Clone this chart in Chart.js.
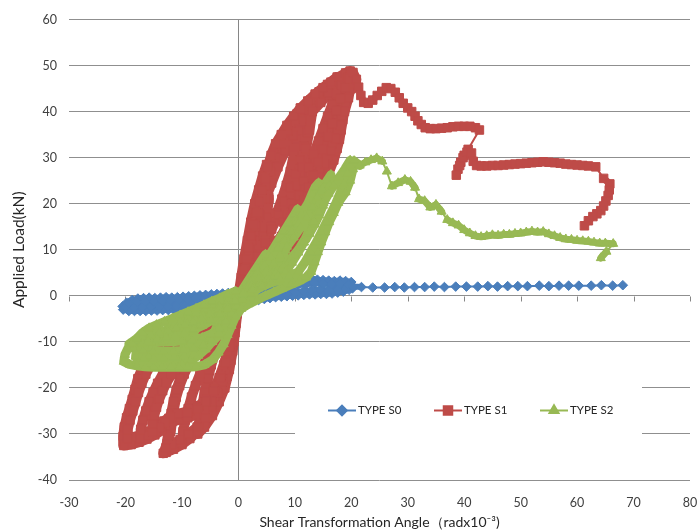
<!DOCTYPE html>
<html><head><meta charset="utf-8">
<script src="https://cdn.jsdelivr.net/npm/chart.js@4/dist/chart.umd.min.js"></script>
<style>html,body{margin:0;padding:0;background:#fff;}canvas{display:block;}</style>
</head><body>
<canvas id="c" width="697" height="531"></canvas>
<script>
// ---- data ----
const seriesNames = ['TYPE S0', 'TYPE S1', 'TYPE S2'];
const xTickRange = [-30, 80, 10];
const yTickRange = [-40, 60, 10];
const xTitle = 'Shear Transformation Angle（radx10⁻³)';
const yTitle = 'Applied Load(kN)';

// TYPE S0 : [angle, load]
const typeS0 = [
[0,0],[1,0.3],[2,0.6],[3,0.9],[4,1.1],[5,1.4],[4,0.8],[3,0.4],[2,0],[1,-0.3],[0,-0.6],[-1,-0.9],[-2,-1.2],[-3,-1.4],[-4,-1.6],[-5,-1.8],[-4,-1.2],[-3,-0.8],[-2,-0.5],[-1,-0.2],[0,0.1],
[1,0.5],[2,0.8],[3,1.1],[4,1.4],[5,1.7],[6,2],[7,2.2],[8,2.5],[9,2.7],[10,2.9],[9.5,2],[8.5,1.5],[7.5,1.1],[6.5,0.8],[5.5,0.5],[4.5,0.2],[3.5,0],[2.5,-0.3],[1.5,-0.5],[0.5,-0.8],[-0.5,-1],[-1.5,-1.3],[-2.5,-1.5],[-3.5,-1.8],[-4.5,-2],[-5.5,-2.2],[-6.5,-2.4],[-7.5,-2.6],[-8.5,-2.8],[-9.5,-3],[-10.5,-3.1],[-10,-2.2],[-9,-1.6],[-8,-1.2],[-7,-0.9],[-6,-0.6],[-5,-0.4],[-4,-0.2],[-3,0],[-2,0.2],[-1,0.4],[0,0.6],
[1,0.9],[2,1.1],[3,1.4],[4,1.6],[5,1.9],[6,2.1],[7,2.3],[8,2.6],[9,2.8],[10,3.1],[11,3.3],[12,3.5],[13,3.7],[14,3.5],[15,3.4],[16,3.3],[17,3.2],[18,3.3],[19,3.2],[20,3],[20.3,2],[19.6,1.3],[18.6,0.9],[17.6,0.7],[16.6,0.5],[15.6,0.4],[14.6,0.4],[13.6,0.3],[12.6,0.3],[11.6,0.2],[10.6,0.1],[9.6,0],[8.6,-0.1],[7.6,-0.2],[6.6,-0.3],[5.6,-0.5],[4.6,-0.7],[3.6,-0.9],[2.6,-1.1],[1.6,-1.3],[0.6,-1.5],[-0.4,-1.7],[-1.4,-1.9],[-2.4,-2.1],[-3.4,-2.2],[-4.4,-2.4],[-5.4,-2.5],[-6.4,-2.6],[-7.4,-2.7],[-8.4,-2.8],[-9.4,-2.9],[-10.4,-3],[-11.4,-3],[-12.4,-3.1],[-13.4,-3.1],[-14.4,-3.2],[-15.4,-3.2],[-16.4,-3.3],[-17.4,-3.3],[-18.4,-3.3],[-19.4,-3.3],[-20.4,-3],[-20.5,-2.3],[-19.8,-1.5],[-18.8,-0.9],[-17.8,-0.6],[-16.8,-0.5],[-15.8,-0.4],[-14.8,-0.5],[-13.8,-0.4],[-12.8,-0.3],[-11.8,-0.4],[-10.8,-0.3],[-9.8,-0.2],[-8.8,-0.1],[-7.8,0],[-6.8,0.1],[-5.8,0.2],[-4.8,0.3],[-3.8,0.4],[-2.8,0.5],[-1.8,0.6],[-0.8,0.8],[0.2,1],
[1.5,1.2],[3,1.6],[4.5,2],[6,2.3],[7.5,2.6],[9,2.9],[10.5,3.2],[12,3.3],[13.5,3],[15,2.7],[16.5,2.6],[18,2.5],[19.5,2.3],[20.2,1.6],[19,1.5],[17.5,1.3],[16,1.2],[14.5,1.3],[13,1.2],[11.5,1],[10,0.7],[8.5,0.4],[7,0.1],[5.5,-0.2],[4,-0.5],[2.5,-0.8],[1,-1.1],[-0.5,-1.3],[-2,-1.5],[-3.5,-1.7],[-5,-1.9],[-6.5,-2],[-8,-2.1],[-9.5,-2.2],[-11,-2.2],[-12.5,-2.3],[-14,-2.4],[-15.5,-2.4],[-17,-2.5],[-18.5,-2.6],[-20,-2.4],[-19.5,-1.6],[-18,-1.3],[-16.5,-1.2],[-15,-1.2],[-13.5,-1.1],[-12,-1],[-10.5,-0.9],[-9,-0.8],[-7.5,-0.6],[-6,-0.4],[-4.5,-0.2],[-3,0],[-1.5,0.2],[0,0.5],[1.5,0.9],[3,1.2],[4.5,1.5],[6,1.7],[7.5,1.9],[9,2.1],[10.5,2.3],[12,2.5],[13.5,2.7],[15,2.6],[16.5,2.5],[18,2.6],[19.5,2.4],[20.3,2],
[21.8,1.9],[23.8,1.8],[25.9,1.8],[27.7,1.9],[29.4,1.8],[31.2,1.9],[33,1.9],[34.7,2],[36.5,1.9],[38.5,2],[40.4,2],[42.4,2],[44.2,2.1],[45.9,2],[47.7,2.1],[49.5,2.1],[51.2,2.1],[53.3,2.2],[55,2.1],[56.8,2.2],[58.5,2.2],[60.3,2.2],[62.5,2.2],[64.3,2.3],[66.3,2.2],[68.1,2.3]
];

// TYPE S1 : [angle, load]
const typeS1 = [
[0,0],[0.5,4],[1,8],[1.6,12],[2.2,16],[2.9,20],[3.6,23],[4.3,26],[5,28.5],[5.2,25],[5.4,21],[5,17],[4.4,13],[3.6,9],[2.7,5],[1.6,2],[0.4,-1],[-0.3,-4],[-0.6,-8],[-1,-12],[-1.6,-16],[-2.4,-20],[-3.4,-23],[-4.6,-26],[-6,-28.5],[-7.2,-30],[-6.8,-27],[-6.4,-24],[-6,-21],[-5.4,-18],[-4.8,-15],[-4,-12],[-3.2,-9],[-2.3,-6],[-1.3,-3],[-0.3,-1],
[0.6,2],[1.1,5],[1.7,9],[2.3,13],[3,17],[3.7,21],[4.5,25],[5.3,28],[6.2,31],[7.2,33.5],[8.2,35.5],[9.3,37.5],[10.4,39.5],[11,40.8],[10.7,37.5],[10.3,34],[9.8,30.5],[9.2,27],[8.5,24],[7.7,21],[6.8,18],[5.8,15],[4.8,12],[3.8,9],[2.8,6],[1.8,3.5],[0.8,1],[0,-2],[-0.4,-6],[-0.8,-10],[-1.3,-14],[-2,-17.5],[-2.9,-20.5],[-3.8,-23],[-4.8,-25.5],[-6,-27.5],[-7.3,-29.5],[-8.6,-31],[-10,-32.3],[-11.5,-33.3],[-12.8,-34],[-13.3,-34.2],[-12.6,-32],[-12,-29.5],[-11.7,-27],[-11.4,-24.5],[-11,-22],[-10.4,-19.5],[-9.6,-17],[-8.6,-14.5],[-7.5,-12],[-6.3,-9.5],[-5,-7],[-3.6,-4.8],[-2.2,-2.8],[-1,-1.2],
[0.5,2],[1.2,6],[2,10],[2.9,14],[3.8,17.5],[4.8,21],[5.9,24.5],[7,28],[8.3,31.5],[9.7,34.8],[11.2,37.8],[12.4,40],[13,41.2],[12.7,38.5],[12.2,35.5],[11.6,32.5],[10.9,29.5],[10.1,26.5],[9.2,23.5],[8.2,20.5],[7.1,17.5],[5.9,14.5],[4.7,11.5],[3.5,8.5],[2.3,5.5],[1.1,2.5],[0.2,-0.5],[-0.3,-3],[-0.8,-7],[-1.4,-11],[-2.2,-15],[-3.1,-18.5],[-4.2,-22],[-5.5,-25],[-7,-28],[-8.5,-30.5],[-10,-32],[-9.8,-29.5],[-9.4,-27],[-8.9,-24.5],[-8.3,-22],[-7.6,-19.5],[-6.8,-17],[-5.9,-14.5],[-4.9,-12],[-3.8,-9.5],[-2.7,-7],[-1.6,-4.5],[-0.6,-2],
[0.3,0.5],[0.8,3],[1.3,6],[1.8,9],[2.4,12],[3,15],[3.6,18],[4.2,21],[4.9,24],[5.7,27],[6.6,30],[7.6,33],[8.8,35.8],[10,38.2],[11.4,40.5],[12.8,42.5],[14.3,44.3],[15.8,45.9],[17.5,47.5],[17.2,46],[16,44],[14.6,42],[13.1,40],[12.6,36],[12,32],[11.3,28],[10.4,24],[9.3,20],[8,16],[6.5,12],[4.8,8],[3,4.5],[1.3,1.5],[0,-1],[-0.4,-4],[-0.8,-7.5],[-1.3,-11],[-1.9,-14.5],[-2.7,-18],[-3.6,-21],[-4.7,-24],[-5.9,-26.5],[-7.3,-28.5],[-8.8,-30],[-10.3,-31.2],[-11.8,-32.3],[-12.8,-33],[-12.5,-30.5],[-12.2,-28],[-11.9,-25.5],[-11.5,-23],[-11,-20.5],[-10.3,-18],[-9.4,-15.5],[-8.3,-13],[-7,-10.5],[-5.6,-8],[-4.1,-5.8],[-2.6,-3.8],[-1.2,-1.8],
[0.3,0],[0.6,3],[1,5.5],[1.4,8],[1.8,10.5],[2.2,13],[2.7,15.5],[3.2,18],[3.7,20.5],[4.2,23],[4.7,25.5],[5.2,28],[5.8,30.5],[6.6,33],[7.6,35],[8.6,37],[9.8,39],[11,40.7],[12.3,42.3],[13.6,43.8],[15,45.2],[16.4,46.4],[17.8,47.5],[19,48.4],[19.8,48.8],[20.3,47.3],[20,45],[19.3,43],[18.8,40.5],[18.5,38.2],[18.2,36],[17.9,34],[17.5,32],[16.9,29.5],[16.1,27],[15.5,25.2],[14.9,23.5],[14.3,21.8],[13.7,20],[12.3,16.5],[10.6,13],[8.8,10],[6.8,7.2],[4.8,4.8],[2.8,2.6],[1,0.5],[0,-2],[-0.3,-4],[-0.7,-7],[-1.1,-10],[-1.6,-13],[-2.2,-16],[-2.9,-18.7],[-3.7,-21],[-4.7,-23],[-6,-24.7],[-7.5,-25.8],[-9,-26.5],[-10.5,-26.9],[-11.8,-27.4],[-12.8,-28.2],[-13.6,-29.2],[-14.8,-30.2],[-16.2,-31.1],[-17.6,-31.8],[-19,-32.3],[-20.3,-32.5],[-20.4,-30.5],[-20.2,-28.5],[-19.8,-26.5],[-19.3,-24.5],[-18.8,-22.5],[-18.3,-20.3],[-17.8,-18],[-17.1,-16],[-16.2,-14],[-15.2,-12.3],[-14,-10.8],[-12.6,-9.4],[-11,-8],[-9.3,-6.8],[-7.6,-5.6],[-5.8,-4.4],[-4,-3.2],[-2.2,-1.8],[-0.6,-0.5],
[0.8,1.2],[2.2,3],[3.6,5],[5,7],[6.4,9.3],[7.7,11.8],[8.9,14.5],[10,17.5],[10.9,20.5],[11.7,23.5],[12.4,26.5],[13.2,29.5],[14.1,32.5],[15.1,35.5],[16,38.5],[16.9,41.3],[17.6,43.6],[18.4,45.6],[19.2,47.2],[20,48],[20.2,47.5],[19.4,44.5],[18.6,41],[17.8,37.5],[16.9,34],[15.9,30.5],[14.8,27],[13.6,23.5],[12.3,20],[10.8,16.5],[9.2,13.3],[7.4,10.2],[5.5,7.3],[3.6,4.6],[1.8,2.2],[0.2,-0.5],[-0.3,-3],[-0.8,-6],[-1.3,-9],[-1.9,-12],[-2.6,-15],[-3.4,-17.8],[-4.4,-20.3],[-5.6,-22.4],[-7,-23.9],[-8.6,-24.9],[-10.2,-25.5],[-11.8,-26],[-13.2,-27.2],[-14.4,-28.4],[-15.7,-29.4],[-17,-30.1],[-18.4,-30.6],[-19.6,-31],[-19.6,-29],[-19.2,-27],[-18.7,-25],[-18.2,-23],[-17.7,-21],[-17.1,-19],[-16.4,-17],[-15.6,-15.2],[-14.6,-13.6],[-13.4,-12.2],[-12,-11],[-10.4,-9.8],[-8.7,-8.5],[-7,-7],[-5.3,-5.5],[-3.6,-4],[-1.9,-2.5],[-0.4,-1],
[0.9,1.3],[2.3,3.3],[3.7,5.3],[5.1,7.4],[6.5,9.7],[7.8,12.2],[9,14.9],[10.1,17.8],[11.1,20.8],[12,23.7],[12.8,26.4],[13.7,29.1],[14.6,31.8],[15.5,34.6],[16.4,37.4],[17.2,40.2],[17.9,42.8],[18.6,45.2],[19.4,47.1],[20,47.6],[19.8,45],[19.1,42],[18.3,39],[17.5,36],[16.6,33],[15.6,30],[14.5,27],[13.3,24],[12,21],[10.5,18],[8.9,15],[7.1,12],[5.3,9],[3.5,6],[1.7,3],[0.1,-0.3],[-0.4,-3.5],[-0.9,-7],[-1.5,-10.5],[-2.2,-14],[-3.1,-17.3],[-4.2,-20.2],[-5.6,-22.6],[-7.2,-24.3],[-9,-25.3],[-10.8,-25.9],[-12.3,-26.6],[-13.5,-27.8],[-14.6,-29.2],[-15.9,-30.3],[-17.4,-31],[-17.3,-29],[-16.9,-27],[-16.4,-25],[-15.8,-23],[-15.1,-21],[-14.3,-19],[-13.4,-17],[-12.3,-15.2],[-11,-13.5],[-9.6,-11.9],[-8,-10.2],[-6.4,-8.4],[-4.8,-6.6],[-3.2,-4.6],[-1.7,-2.6],[-0.4,-1],
[1,1.6],[2.4,3.6],[3.8,5.7],[5.2,7.9],[6.5,10.3],[7.7,12.9],[8.8,15.7],[9.8,18.7],[10.7,21.8],[11.5,24.9],[12.4,27.9],[13.3,30.8],[14.2,33.6],[15,36.3],[15.8,38.9],[16.6,41.5],[17.4,43.8],[18.3,45.8],[19.3,47.4],[20.1,48.1],[20,46],[19.5,43],[18.8,40],[18,37],[17.2,34.2],[16.3,31.4],[15.3,28.6],[14.2,25.8],[13,23],[11.6,20.2],[10.1,17.4],[8.5,14.6],[6.8,11.6],[5,8.6],[3.2,5.6],[1.5,2.7],[0,-0.5],[-0.5,-4],[-1,-7.5],[-1.6,-11],[-2.3,-14.5],[-3.2,-17.8],[-4.3,-20.7],[-5.7,-23],[-7.3,-24.6],[-9.1,-25.5],[-10.8,-25.6],[-12,-26.3],[-13,-27.5],[-14,-28.6],[-15.2,-29.6],[-15.2,-27.8],[-14.9,-26],[-14.5,-24.2],[-14,-22.4],[-13.4,-20.6],[-12.7,-18.8],[-11.8,-17],[-10.7,-15.2],[-9.5,-13.5],[-8.1,-11.7],[-6.6,-9.8],[-5,-7.8],[-3.4,-5.6],[-1.8,-3.3],[-0.4,-1.2],
[1.2,1.5],[2.7,3.5],[4.1,5.5],[5.5,7.6],[6.9,9.9],[8.2,12.4],[9.4,15.1],[10.5,18],[11.5,20.8],[12.4,23.5],[13.2,26.2],[14.1,29],[15,31.8],[15.9,34.6],[16.7,37.4],[17.4,40.2],[18.1,42.8],[18.9,45.2],[19.7,47.2],[20.3,48.5],[20.9,47],[21.3,45.3],[21.7,43.5],[22.2,42],[23,41.8],[23.8,42.5],[24.6,43.5],[25.4,44.4],[26.2,45.2],[27,45],[27.8,44.2],[28.5,43],[29.2,41.8],[30,40.8],[30.7,40],[31.3,39],[31.8,38],[32.4,37.2],[33.1,36.5],[34,36.3],[35,36.3],[36,36.4],[37,36.5],[38,36.7],[39,36.8],[40,36.8],[41,36.8],[42,36.5],[42.7,36],[40.7,31.8],[40,30.5],[39.4,29],[38.9,27.5],[38.6,26.2],[39.2,28.3],[39.8,30],[40.5,31.2],[41.3,31],[41.6,29.2],[42.2,28.3],[43,28.2],[44,28.2],[45,28.3],[46,28.3],[47,28.4],[48,28.5],[49,28.6],[50,28.7],[51,28.8],[52,28.9],[53,29],[54,29.1],[55,29],[56,28.9],[57,28.8],[58,28.6],[59,28.5],[60,28.4],[61,28.3],[62,28.2],[63.3,28],[64.7,25.5],[65.8,24.3],[65.7,23],[65.5,21.8],[65.1,20.6],[64.7,19.5],[64.2,18.5],[63.5,17.8],[62.8,17.2],[62,16.3],[61.3,15.2]
];

// TYPE S2 : [angle, load]
const typeS2 = [
[0,0],[0.8,1.5],[1.6,3],[2.4,4.5],[3.2,6],[4,7.5],[4.8,9],[4.3,7],[3.6,5],[2.8,3.2],[2,1.8],[1,0.4],[0,-1],[-0.8,-2.5],[-1.6,-4],[-2.4,-5.5],[-3.2,-7],[-4,-8.5],[-4.8,-10],[-4.3,-8],[-3.6,-6],[-2.8,-4.2],[-2,-2.8],[-1,-1.4],[0,-0.2],
[0.9,1],[1.8,2.5],[2.7,4],[3.6,5.5],[4.5,7],[5.4,8.7],[6.3,10.4],[7.2,12.2],[8.1,14],[9,15.8],[9.9,17.6],[10.5,18.8],[10.1,16.5],[9.6,14.2],[9,12],[8.3,9.9],[7.5,7.9],[6.6,6.1],[5.6,4.5],[4.5,3.1],[3.3,1.9],[2.1,0.8],[0.9,-0.3],[-0.2,-1.5],[-1.2,-3],[-2.2,-4.6],[-3.2,-6.2],[-4.2,-7.8],[-5.2,-9.3],[-6.2,-10.8],[-7.2,-12.1],[-8.2,-13.2],[-9.2,-14],[-10.2,-14.6],[-10,-12.6],[-9.5,-10.8],[-8.8,-9.2],[-7.9,-7.8],[-6.9,-6.5],[-5.8,-5.3],[-4.6,-4.1],[-3.4,-3],[-2.2,-1.9],[-1,-0.8],
[0.3,0.2],[1.4,1.7],[2.5,3.3],[3.6,4.9],[4.7,6.6],[5.8,8.4],[6.9,10.2],[8,12],[9.1,14],[10.2,16],[11.3,18],[12.3,20],[13,22],[13.6,23.6],[14.2,24.5],[14.4,22.5],[14.2,20.5],[13.8,18.5],[13.3,16.5],[12.6,14.5],[11.9,12.5],[11,10.6],[10,8.8],[8.9,7.1],[7.7,5.6],[6.4,4.2],[5,2.9],[3.6,1.6],[2.2,0.4],[0.8,-0.8],[-0.5,-2],[-1.5,-4],[-2.5,-6],[-3.5,-8],[-4.6,-9.9],[-5.8,-11.6],[-7.1,-13],[-8.5,-14.1],[-10,-14.9],[-11.5,-15.3],[-13,-15.5],[-14.5,-15.4],[-15.8,-15],[-15.9,-13.2],[-15.5,-11.5],[-14.8,-10],[-13.9,-8.7],[-12.8,-7.6],[-11.6,-6.6],[-10.3,-5.7],[-8.9,-4.8],[-7.5,-3.9],[-6,-3],[-4.5,-2.1],[-3,-1.2],[-1.5,-0.4],
[0,0.3],[1,1.2],[2.2,3],[3.4,4.8],[4.6,6.6],[5.8,8.4],[7,10.2],[8.2,12],[9.4,13.8],[10.6,15.6],[11.8,17.5],[13,19.5],[14,21.5],[14.5,22.8],[14.3,20.5],[13.9,18.3],[13.3,16.2],[12.6,14.2],[11.8,12.3],[10.9,10.5],[9.9,8.8],[8.8,7.2],[7.6,5.7],[6.3,4.3],[5,3],[3.6,1.8],[2.2,0.6],[0.8,-0.7],[-0.3,-2.2],[-1.2,-4.3],[-2.2,-6.4],[-3.3,-8.3],[-4.6,-10],[-6.1,-11.4],[-7.8,-12.4],[-9.6,-13],[-11.4,-13.4],[-13.2,-13.6],[-15,-13.7],[-16.8,-13.6],[-18.2,-13.2],[-18,-11.5],[-17.2,-10.2],[-16,-9.4],[-14.6,-8.7],[-13.2,-8],[-11.8,-7.4],[-10.4,-6.8],[-9,-6.1],[-7.6,-5.3],[-6.2,-4.4],[-4.8,-3.4],[-3.4,-2.3],[-2,-1.2],[-0.6,-0.1],
[1,0.8],[2.3,2.2],[3.6,3.7],[4.9,5.3],[6.2,7],[7.4,8.8],[8.6,10.7],[9.8,12.7],[11,14.8],[12.1,17],[13.1,19.2],[14,21.3],[14.9,23.3],[15.7,25],[16.4,26.3],[16.1,24],[15.6,21.8],[15,19.6],[14.3,17.5],[13.5,15.5],[12.6,13.5],[11.6,11.6],[10.5,9.8],[9.3,8.1],[8,6.5],[6.6,5],[5.1,3.6],[3.6,2.2],[2.1,0.8],[0.7,-0.6],[-0.4,-2.3],[-1.3,-4.3],[-2.3,-6.3],[-3.4,-8.1],[-4.7,-9.6],[-6.2,-10.7],[-7.9,-11.4],[-9.7,-11.8],[-11.5,-12],[-13.3,-12.1],[-15.1,-12.1],[-16.9,-11.9],[-18.6,-11.4],[-19.4,-10.5],[-18.4,-9.6],[-17,-9],[-15.5,-8.5],[-14,-8],[-12.5,-7.5],[-11,-7],[-9.5,-6.4],[-8,-5.7],[-6.5,-4.9],[-5,-4],[-3.5,-3],[-2,-2],[-0.6,-1],
[-0.3,-2.2],[-1.2,-3.9],[-2.2,-5.6],[-3.4,-7.1],[-4.8,-8.3],[-6.4,-9.1],[-8.2,-9.6],[-10,-9.8],[-11.8,-10],[-13.6,-10.1],[-15.4,-10.2],[-17,-10.3],[-16,-9.9],[-14.4,-9.5],[-12.8,-9.1],[-11.2,-8.6],[-9.6,-8.1],[-8,-7.4],[-6.4,-6.5],[-4.8,-5.4],[-3.3,-4.1],[-1.9,-2.7],[-0.6,-1.2],
[1,0.5],[2.5,1.5],[4,2.4],[5.5,3.3],[7,4.3],[8.3,5.2],[9.5,7.2],[10.6,9.4],[11.6,11.6],[12.5,13.8],[13.4,16],[14.3,18.1],[15.1,20.2],[16,22.2],[16.9,24],[17.9,25.8],[18.9,27.6],[19.8,29.4],[20.3,27.5],[19.8,25],[19,22.5],[17.7,20.2],[16.9,18],[16.1,16],[15.4,13.8],[14.7,11.6],[14.1,9.5],[13.5,7.3],[12.9,5.2],[12,4],[10.8,3.2],[9.3,2.4],[7.8,1.6],[6.3,0.8],[4.8,0],[3.3,-0.9],[1.8,-1.8],[0.5,-2.8],[-0.5,-4.5],[-1.2,-6.5],[-1.9,-8.5],[-2.6,-10.5],[-3.5,-12.3],[-4.6,-13.9],[-6,-15],[-7.5,-15.4],[-9,-15.5],[-10.5,-15.5],[-12,-15.5],[-13.5,-15.5],[-15,-15.5],[-16.5,-15.4],[-18,-15.2],[-19.3,-14.9],[-20.3,-14.3],[-20.1,-12.8],[-19.6,-11.5],[-18.9,-10.3],[-18,-9.3],[-17,-8],[-15.8,-7],[-14.5,-6.3],[-13.1,-5.6],[-11.7,-4.9],[-10.3,-4.2],[-8.9,-3.5],[-7.5,-2.8],[-6.1,-2],[-4.7,-1.2],[-3.3,-0.5],[-1.9,0.3],[-0.5,1],
[0.8,0.4],[2.5,1.2],[4.2,2],[5.8,2.8],[7.4,3.5],[9,4.3],[10.6,5.2],[11.8,7.3],[12.8,9.5],[13.8,11.6],[14.7,13.8],[15.6,16],[16.5,18.2],[17.3,20.2],[18,22.3],[18.7,24.4],[19.3,26.5],[19.8,28.3],[20.5,29.3],[21.5,28.3],[22.5,29],[23.5,29.5],[24.5,29.9],[25.5,29.2],[26.3,27],[27.2,23.8],[28.3,24.5],[29.5,25.2],[30.5,24.8],[31.3,23.5],[32,21],[33,20.6],[34,19.2],[35,19.8],[36,18.3],[37,16.5],[38,15.8],[39,15.3],[40,14.3],[41,13.6],[42,13],[43,12.8],[44,13],[45,13.2],[46,13.1],[47,13.3],[48,13.3],[49,13.5],[50,13.6],[51,13.8],[52,14],[53,13.8],[54,13.9],[55,13.4],[56,13],[57,12.6],[58,12.3],[59,12.2],[60,12],[61,11.9],[62,11.8],[63,11.6],[64,11.4],[65,11.4],[66.4,11.3],[65.2,9.6],[64.2,8.2]
];

// ---- styles ----
const colors = ['#4A7EBB', '#BE4B48', '#98B954'];
const markers = ['rectRot', 'rect', 'triangle'];
const markerRadius = [4.8, 6, 5.2];
const bandWidth = [6, 10, 9];   // stroke width where markers crowd together
const FONT = 'Lato, Carlito, "Liberation Sans", sans-serif';

function segWidth(i) {
  return ctx => {
    const a = ctx.p0, b = ctx.p1;
    const len = Math.hypot(b.x - a.x, b.y - a.y);
    if (i === 0 && a.parsed.x > 20.5) return 2;
    if (i > 0 && a.parsed.x > 20.5) return len > 10 ? 2 : 7;
    return len > 20 ? 2 : bandWidth[i];
  };
}

const seriesData = [typeS0, typeS1, typeS2];
const datasets = seriesData.map((arr, i) => ({
  label: seriesNames[i],
  data: arr.map(p => ({x: p[0], y: p[1]})),
  showLine: true,
  borderColor: colors[i],
  backgroundColor: colors[i],
  borderWidth: 2,
  borderJoinStyle: 'round',
  borderCapStyle: 'round',
  segment: {borderWidth: segWidth(i)},
  pointStyle: markers[i],
  pointRadius: markerRadius[i],
  pointBorderWidth: 1,
  pointBackgroundColor: colors[i],
  pointBorderColor: colors[i],
  pointHoverRadius: markerRadius[i],
  tension: 0,
  order: 3 - i
}));

const extras = {
  id: 'extras',
  beforeDatasetsDraw(chart) {
    const {ctx, scales: {x, y}} = chart;
    const y0 = Math.round(y.getPixelForValue(0)) + 0.5;
    ctx.save();
    ctx.strokeStyle = '#868686';
    ctx.lineWidth = 1;
    x.ticks.forEach(t => {
      const px = Math.round(x.getPixelForValue(t.value)) + 0.5;
      ctx.beginPath(); ctx.moveTo(px, y0); ctx.lineTo(px, y0 + 5); ctx.stroke();
    });
    ctx.restore();
  },
  afterDatasetsDraw(chart) {
    const ctx = chart.ctx;
    ctx.save();
    ctx.fillStyle = '#ffffff';
    ctx.fillRect(295, 368, 347, 86);
    const ly = 410.5;
    const items = [[328, 358], [434, 464], [540, 570]];
    items.forEach((it, i) => {
      const [x1, tx] = it;
      ctx.strokeStyle = colors[i];
      ctx.lineWidth = 2;
      ctx.beginPath(); ctx.moveTo(x1, ly); ctx.lineTo(x1 + 28, ly); ctx.stroke();
      ctx.fillStyle = colors[i];
      Chart.helpers.drawPoint(ctx, {pointStyle: markers[i], radius: markerRadius[i], borderWidth: 1, rotation: 0}, x1 + 14, ly);
      ctx.fill();
      ctx.fillStyle = '#262626';
      ctx.font = '11.5px ' + FONT;
      ctx.textBaseline = 'middle';
      ctx.textAlign = 'left';
      ctx.fillText(seriesNames[i], tx, ly);
    });
    ctx.restore();
  }
};

new Chart(document.getElementById('c'), {
  type: 'scatter',
  data: {datasets},
  options: {
    responsive: false,
    animation: false,
    devicePixelRatio: 1,
    layout: {padding: {left: 10, top: 15, right: 5, bottom: 0}},
    plugins: {legend: {display: false}, tooltip: {enabled: false}},
    scales: {
      x: {
        type: 'linear', min: xTickRange[0], max: xTickRange[1],
        ticks: {stepSize: xTickRange[2], color: '#404040', font: {family: FONT, size: 12.5}, padding: 15, maxRotation: 0},
        grid: {drawTicks: false, lineWidth: 1, color: c => (c.tick && c.tick.value === 0) ? '#868686' : 'rgba(0,0,0,0)'},
        border: {display: false},
        title: {display: true, text: xTitle, color: '#262626', font: {family: FONT, size: 14}, padding: 0},
        afterFit: s => { s.height = 51; s.paddingLeft = 0; s.paddingRight = 0; }
      },
      y: {
        min: yTickRange[0], max: yTickRange[1],
        ticks: {stepSize: yTickRange[2], color: '#404040', font: {family: FONT, size: 12.5}, padding: 12},
        grid: {drawTicks: false, lineWidth: 1, color: '#8f8f8f'},
        border: {display: false},
        title: {display: true, text: yTitle, color: '#262626', font: {family: FONT, size: 15.5}, padding: 0},
        afterFit: s => { s.width = 59; }
      }
    }
  },
  plugins: [extras]
});
</script>
</body></html>
